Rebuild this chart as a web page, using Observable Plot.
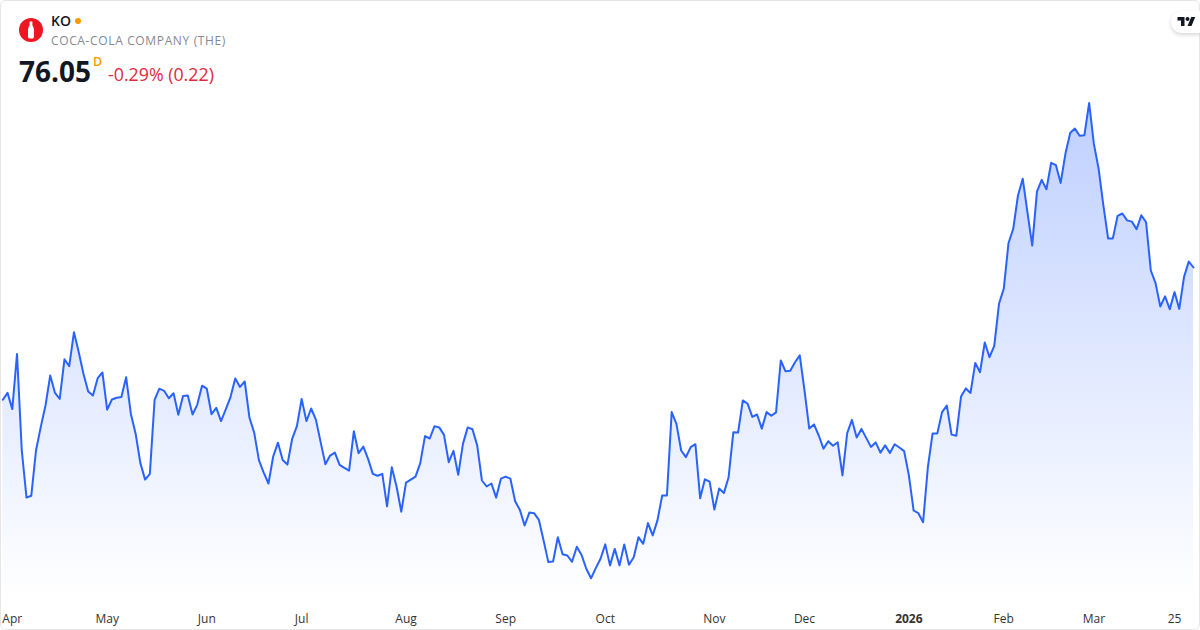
<!DOCTYPE html>
<html><head><meta charset="utf-8">
<style>
html,body{margin:0;padding:0;background:#fff;width:1200px;height:630px;overflow:hidden}
#wrap{position:relative;width:1200px;height:630px;font-family:"Open Sans","Noto Sans",sans-serif}
#wrap svg.chart{position:absolute;left:0;top:0}
#frame{position:absolute;left:0;top:0;width:1198px;height:628px;border:1px solid #e6e6e6;border-radius:6px;pointer-events:none}
#logo{position:absolute;left:19px;top:18px;width:24px;height:24px}
#sym{position:absolute;left:51px;top:12px;font-size:14px;line-height:18px;font-weight:600;color:#131722}
#dot{position:absolute;left:75px;top:18px;width:6px;height:6px;border-radius:50%;background:#ff9800}
#name{position:absolute;left:51px;top:32px;font-size:12px;line-height:17px;letter-spacing:.64px;color:#868993}
#price{position:absolute;left:19px;top:52px;font-size:28px;line-height:38px;font-weight:700;color:#131722}
#d{position:absolute;left:93px;top:54px;font-size:12.5px;line-height:15px;font-weight:600;color:#ff9800}
#chg{position:absolute;left:108px;top:62px;font-size:17.8px;line-height:24px;color:#dc2a41}
#tv{position:absolute;left:1171px;top:11px;width:29px;height:22px;background:#fff;border-radius:11px 0 0 11px;box-shadow:0 2px 4px rgba(0,0,0,.16)}
#tv svg{position:absolute;left:6px;top:4px;width:19px;height:13px}
</style></head><body>
<div id="wrap"></div>
<script src="https://cdn.jsdelivr.net/npm/d3@7"></script>
<script src="https://cdn.jsdelivr.net/npm/@observablehq/plot@0.6"></script>
<script>
const closes = [
71.64,71.87,71.33,73.17,69.95,68.38,68.44,69.95,70.73,71.45,72.45,71.87,71.67,72.99,72.76,73.89,73.23,72.51,71.92,71.78,
72.36,72.55,71.31,71.65,71.71,71.73,72.39,71.17,70.51,69.53,68.98,69.17,71.64,72.01,71.94,71.69,71.86,71.14,71.77,71.78,
71.15,71.48,72.11,72.01,71.16,71.37,70.93,71.32,71.73,72.35,72.07,72.25,71.04,70.54,69.62,69.21,68.85,69.75,70.21,69.63,
69.48,70.34,70.76,71.67,70.93,71.35,70.98,70.23,69.49,69.78,69.88,69.47,69.37,69.28,70.59,69.86,70.08,69.67,69.17,69.11,
69.17,68.09,69.39,68.75,67.91,68.88,68.98,69.08,69.53,70.43,70.35,70.76,70.72,70.47,69.56,69.94,69.14,70.17,70.72,70.66,
70.12,68.95,68.75,68.85,68.38,69.01,69.08,69.01,68.26,67.97,67.45,67.88,67.86,67.64,66.95,66.23,66.25,67.06,66.49,66.45,
66.24,66.74,66.47,66.01,65.69,66.03,66.34,66.82,66.12,66.67,66.12,66.82,66.14,66.39,67.06,66.84,67.53,67.12,67.62,68.45,
68.45,71.23,70.84,69.95,69.73,70.06,70.16,68.36,68.99,68.91,67.98,68.68,68.53,69.06,70.56,70.55,71.62,71.51,71.07,71.15,
70.68,71.23,71.11,71.22,72.95,72.59,72.61,72.89,73.12,71.95,70.68,70.82,70.45,70.01,70.26,70.11,70.22,69.12,70.53,70.97,
70.38,70.67,70.37,70.07,70.22,69.88,70.12,69.87,70.16,70.05,69.93,69.12,67.95,67.86,67.56,69.39,70.52,70.52,71.23,71.45,
70.48,70.44,71.75,72.02,71.87,72.87,72.56,73.55,73.06,73.44,74.84,75.34,76.86,77.34,78.45,79.01,77.89,76.78,78.58,78.97,
78.66,79.54,79.46,78.87,79.84,80.53,80.68,80.44,80.46,81.53,80.17,79.34,78.12,77.02,77.02,77.77,77.85,77.62,77.58,77.33,
77.79,77.56,75.95,75.53,74.75,75.09,74.66,75.23,74.67,75.73,76.25,76.05];
const tickIndex = [2,22,43,63,85,106,127,150,169,191,211,230,247];
const tickLabels = ["Apr","May","Jun","Jul","Aug","Sep","Oct","Nov","Dec","2026","Feb","Mar","25"];
const boldLabels = ["2026"];
const priceFloor = 64.95;
const priceDomain = [63.95, 84.95];

const rows = closes.map((close, i) => ({i, close}));
const ticks = tickIndex.map((i, k) => ({i, label: tickLabels[k], bold: boldLabels.includes(tickLabels[k])}));

const gradient = () => {
  const g = d3.create("svg:defs");
  const lg = g.append("linearGradient").attr("id","kofill").attr("x1",0).attr("x2",0).attr("y1",0).attr("y2",1);
  lg.append("stop").attr("offset",0).attr("stop-color","#2962ff").attr("stop-opacity",.3);
  lg.append("stop").attr("offset",1).attr("stop-color","#2962ff").attr("stop-opacity",0);
  return g.node();
};

const chart = Plot.plot({
  width:1200, height:630, margin:0,
  style:{background:"transparent",overflow:"visible"},
  className:"kochart",
  x:{type:"linear",domain:[0,251],range:[2.3,1193],axis:null},
  y:{domain:priceDomain,range:[630,0],axis:null},
  marks:[
    gradient,
    Plot.areaY(rows,{x:"i",y1:priceFloor,y2:"close",fill:"url(#kofill)"}),
    Plot.lineY(rows,{x:"i",y:"close",stroke:"#2962ff",strokeWidth:2,curve:"linear",strokeLinejoin:"round"}),
    Plot.text(ticks.filter(t=>!t.bold),{x:"i",text:"label",frameAnchor:"bottom",dy:-8,fontSize:12,fill:"#333",fontFamily:"Open Sans"}),
    Plot.text(ticks.filter(t=>t.bold),{x:"i",text:"label",frameAnchor:"bottom",dy:-8,fontSize:12,fontWeight:700,fill:"#333",fontFamily:"Open Sans"})
  ]
});
chart.classList.add("chart");
const wrap = document.getElementById("wrap");
wrap.appendChild(chart);
wrap.insertAdjacentHTML("beforeend",`
<div id="frame"></div>
<svg id="logo" viewBox="0 0 24 24"><circle cx="12" cy="12" r="12" fill="#f01523"/><path fill="#fff" d="M10.6 3.5h2.8v3.2c0 1.6 1.6 2.6 1.6 5.2v7.2c0 .8-.6 1.4-1.4 1.4h-3.2c-.8 0-1.4-.6-1.4-1.4v-7.2c0-2.6 1.6-3.6 1.6-5.2z"/></svg>
<div id="sym">KO</div><div id="dot"></div>
<div id="name">COCA-COLA COMPANY (THE)</div>
<div id="price">76.05</div><div id="d">D</div>
<div id="chg">-0.29% (0.22)</div>
<div id="tv"><svg viewBox="0 0 36 26"><path fill="#131722" d="M14 22H7V11H0V4h14v18zM28 22h-8l7.5-18h8L28 22z"/><circle fill="#131722" cx="20" cy="8" r="4"/></svg></div>`);
</script>
</body></html>
